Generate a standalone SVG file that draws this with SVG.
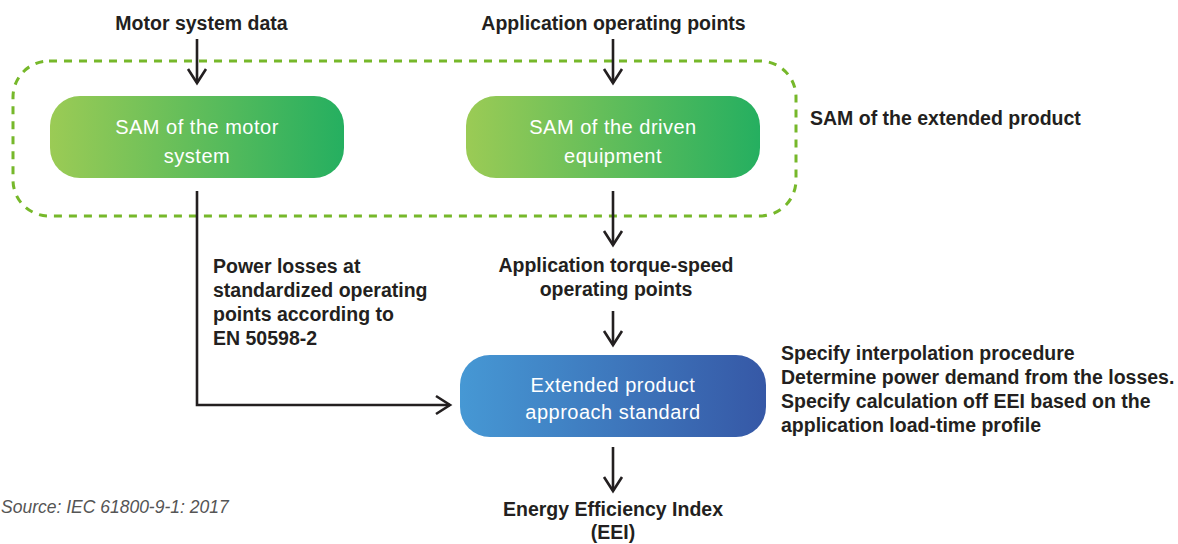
<svg xmlns="http://www.w3.org/2000/svg" width="1178" height="544" viewBox="0 0 1178 544">
  <style>
    .lbl { font-family: "Liberation Sans", Arial, sans-serif; font-weight: bold; font-size: 19.5px; fill: #231f20; }
    .box { font-family: "Liberation Sans", Arial, sans-serif; font-size: 20px; letter-spacing: 0.5px; fill: #ffffff; }
    .src { font-family: "Liberation Sans", Arial, sans-serif; font-style: italic; font-size: 17.5px; fill: #555555; }
    .conn { fill: none; stroke: #231f20; stroke-width: 2.6; }
  </style>
  <defs>
    <linearGradient id="gGreen" x1="0" y1="0" x2="1" y2="0">
      <stop offset="0" stop-color="#9bcb55"/>
      <stop offset="1" stop-color="#25af60"/>
    </linearGradient>
    <linearGradient id="gBlue" x1="0" y1="0" x2="1" y2="0">
      <stop offset="0" stop-color="#4698d4"/>
      <stop offset="1" stop-color="#3658a6"/>
    </linearGradient>
    <marker id="arr" markerUnits="userSpaceOnUse" markerWidth="24" markerHeight="24" viewBox="-18 -12 22 24" refX="0" refY="0" orient="auto">
      <path d="M-14,-9 L0,0 L-14,9" fill="none" stroke="#231f20" stroke-width="2.6"/>
    </marker>
  </defs>

  <g id="group-extended">
    <rect x="13" y="61" width="783" height="155" rx="36" ry="36" fill="none" stroke="#76b82a" stroke-width="3" stroke-dasharray="8 7"/>
    <text class="lbl" x="810" y="125">SAM of the extended product</text>
  </g>

  <g id="input-motor">
    <text class="lbl" x="201.5" y="30" text-anchor="middle">Motor system data</text>
  </g>
  <g id="input-application">
    <text class="lbl" x="613.5" y="30" text-anchor="middle">Application operating points</text>
  </g>

  <g id="sam-motor">
    <rect x="50" y="96" width="294" height="82" rx="30" ry="30" fill="url(#gGreen)"/>
    <text class="box" x="197" y="134" text-anchor="middle">SAM of the motor</text>
    <text class="box" x="197" y="163" text-anchor="middle">system</text>
  </g>

  <g id="sam-driven">
    <rect x="466" y="96" width="294" height="82" rx="30" ry="30" fill="url(#gGreen)"/>
    <text class="box" x="613" y="134" text-anchor="middle">SAM of the driven</text>
    <text class="box" x="613" y="163" text-anchor="middle">equipment</text>
  </g>

  <g id="power-losses">
    <text class="lbl" x="213" y="273">Power losses at</text>
    <text class="lbl" x="213" y="297">standardized operating</text>
    <text class="lbl" x="213" y="321">points according to</text>
    <text class="lbl" x="213" y="345">EN 50598-2</text>
  </g>

  <g id="torque-speed">
    <text class="lbl" x="616" y="272" text-anchor="middle">Application torque-speed</text>
    <text class="lbl" x="616" y="296" text-anchor="middle">operating points</text>
  </g>

  <g id="extended-standard">
    <rect x="460" y="355" width="306" height="82" rx="30" ry="30" fill="url(#gBlue)"/>
    <text class="box" x="613" y="392" text-anchor="middle">Extended product</text>
    <text class="box" x="613" y="419" text-anchor="middle">approach standard</text>
  </g>

  <g id="standard-notes">
    <text class="lbl" x="781" y="360">Specify interpolation procedure</text>
    <text class="lbl" x="781" y="384">Determine power demand from the losses.</text>
    <text class="lbl" x="781" y="408">Specify calculation off EEI based on the</text>
    <text class="lbl" x="781" y="432">application load-time profile</text>
  </g>

  <g id="eei">
    <text class="lbl" x="613" y="516" text-anchor="middle">Energy Efficiency Index</text>
    <text class="lbl" x="613" y="539" text-anchor="middle">(EEI)</text>
  </g>

  <g id="source">
    <text class="src" x="1" y="513">Source: IEC 61800-9-1: 2017</text>
  </g>

  <g id="connectors">
    <path class="conn" d="M197,39 L197,83" marker-end="url(#arr)"/>
    <path class="conn" d="M613,39 L613,83" marker-end="url(#arr)"/>
    <path class="conn" d="M197,191 L197,405 L450,405" marker-end="url(#arr)"/>
    <path class="conn" d="M613,191 L613,245" marker-end="url(#arr)"/>
    <path class="conn" d="M613,311 L613,345" marker-end="url(#arr)"/>
    <path class="conn" d="M613,447 L613,491" marker-end="url(#arr)"/>
  </g>
</svg>
